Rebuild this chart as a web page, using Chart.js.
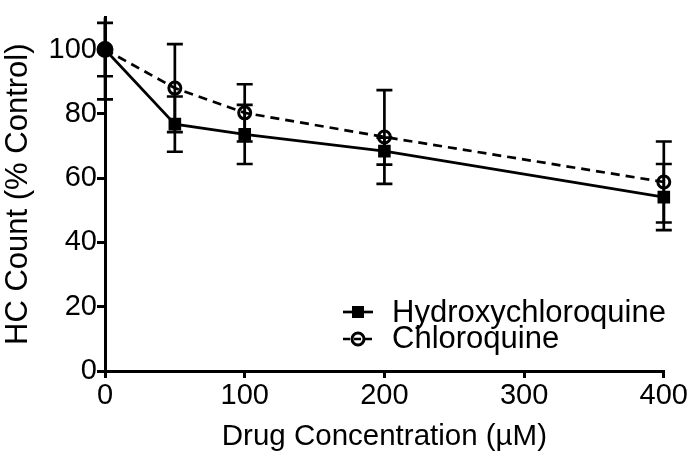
<!DOCTYPE html>
<html>
<head>
<meta charset="utf-8">
<script src="https://cdn.jsdelivr.net/npm/chart.js@4.4.1/dist/chart.umd.min.js"></script>
<style>
  html, body { margin: 0; padding: 0; background: #fff; }
  #wrap { width: 689px; height: 456px; }
</style>
</head>
<body>
<div id="wrap"><canvas id="myChart" width="689" height="456"></canvas></div>
<script>
// drug concentration (uM)
const conc = [0, 50, 100, 200, 400];
const hcq = [100, 76.8, 73.6, 68.4, 54.1];
const hcqErr = [8.3, 8.6, 9.2, 4.2, 10.3];
const cq = [100, 88.0, 80.3, 72.8, 58.8];
const cqErr = [15.5, 13.7, 8.9, 14.6, 12.6];
const xTicks = [0, 100, 200, 300, 400];
const yTicks = [0, 20, 40, 60, 80, 100];
const seriesNames = ["Hydroxychloroquine", "Chloroquine"];

const FONT = "'Liberation Sans', Arial, sans-serif";
const errs = [hcqErr, cqErr];

function toPoints(ys) {
  return conc.map((x, i) => ({ x: x, y: ys[i] }));
}

var errorBars = {
  id: "errorBars",
  beforeDatasetsDraw(chart) {
    const ctx = chart.ctx, xs = chart.scales.x, ys = chart.scales.y, a = chart.chartArea;
    ctx.save();
    ctx.beginPath();
    ctx.rect(a.left - 20, a.top, a.right - a.left + 40, a.bottom - a.top);
    ctx.clip();
    ctx.strokeStyle = "#000";
    ctx.lineWidth = 2.7;
    chart.data.datasets.forEach((ds, d) => {
      ds.data.forEach((p, i) => {
        const e = errs[d][i];
        const px = xs.getPixelForValue(p.x);
        const hi = ys.getPixelForValue(p.y + e), lo = ys.getPixelForValue(p.y - e);
        ctx.beginPath();
        ctx.moveTo(px, hi); ctx.lineTo(px, lo);
        ctx.moveTo(px - 8, hi); ctx.lineTo(px + 8, hi);
        ctx.moveTo(px - 8, lo); ctx.lineTo(px + 8, lo);
        ctx.stroke();
      });
    });
    ctx.restore();
  }
};

var legendBox = {
  id: "legendBox",
  afterDraw(chart) {
    const ctx = chart.ctx;
    ctx.save();
    ctx.strokeStyle = "#000";
    ctx.fillStyle = "#000";
    ctx.lineWidth = 2.7;
    // Hydroxychloroquine: solid line + filled square
    ctx.beginPath();
    ctx.moveTo(343, 312); ctx.lineTo(373, 312);
    ctx.stroke();
    ctx.fillRect(352, 306, 12, 12);
    // Chloroquine: dashed line + open circle
    ctx.setLineDash([7, 4]);
    ctx.beginPath();
    ctx.moveTo(343, 339); ctx.lineTo(374, 339);
    ctx.stroke();
    ctx.setLineDash([]);
    ctx.lineWidth = 3;
    ctx.beginPath();
    ctx.arc(358, 339, 6, 0, Math.PI * 2);
    ctx.stroke();
    ctx.font = "31px " + FONT;
    ctx.textBaseline = "alphabetic";
    ctx.fillText(seriesNames[0], 392, 322);
    ctx.fillText(seriesNames[1], 392, 348);
    ctx.restore();
  }
};

var ctx = document.getElementById("myChart").getContext("2d");
var chart = new Chart(ctx, {
  type: "line",
  data: {
    datasets: [
      {
        label: seriesNames[0],
        data: toPoints(hcq),
        borderColor: "#000",
        borderWidth: 2.7,
        pointStyle: ["circle", "rect", "rect", "rect", "rect"],
        pointRadius: [7.5, 7.5, 7.5, 7.5, 7.5],
        pointBorderWidth: 2,
        pointBorderColor: "#000",
        pointBackgroundColor: "#000",
        tension: 0,
        clip: false,
      },
      {
        label: seriesNames[1],
        data: toPoints(cq),
        borderColor: "#000",
        borderWidth: 2.7,
        borderDash: [9, 6],
        pointStyle: "circle",
        pointRadius: 6,
        pointBorderWidth: 3,
        pointBorderColor: "#000",
        pointBackgroundColor: "rgba(0,0,0,0)",
        tension: 0,
        clip: false,
      },
    ],
  },
  options: {
    responsive: false,
    animation: false,
    layout: { padding: { left: 0, right: 24, top: 1, bottom: 0 } },
    plugins: {
      legend: { display: false },
      tooltip: { enabled: false },
    },
    scales: {
      x: {
        type: "linear",
        min: 0,
        max: 400,
        afterBuildTicks: (s) => { s.ticks = xTicks.map((v) => ({ value: v })); },
        afterFit: (s) => { s.height = 85; },
        ticks: { color: "#000", font: { family: FONT, size: 29 }, padding: 1, maxRotation: 0 },
        grid: { drawOnChartArea: false, color: "#000", lineWidth: 3, tickLength: 7 },
        border: { color: "#000", width: 3 },
        title: {
          display: true,
          text: "Drug Concentration (µM)",
          color: "#000",
          font: { family: FONT, size: 29.5 },
          padding: { top: 0, bottom: 1 },
        },
      },
      y: {
        min: 0,
        max: 110,
        afterBuildTicks: (s) => { s.ticks = yTicks.map((v) => ({ value: v })); },
        afterFit: (s) => { s.width = 105; },
        ticks: { color: "#000", font: { family: FONT, size: 29 }, padding: 0 },
        grid: { drawOnChartArea: false, color: "#000", lineWidth: 3, tickLength: 8 },
        border: { color: "#000", width: 3 },
        title: {
          display: true,
          text: "HC Count (% Control)",
          color: "#000",
          font: { family: FONT, size: 31 },
          padding: { top: 0, bottom: 0 },
        },
      },
    },
  },
  plugins: [errorBars, legendBox],
});
</script>
</body>
</html>
